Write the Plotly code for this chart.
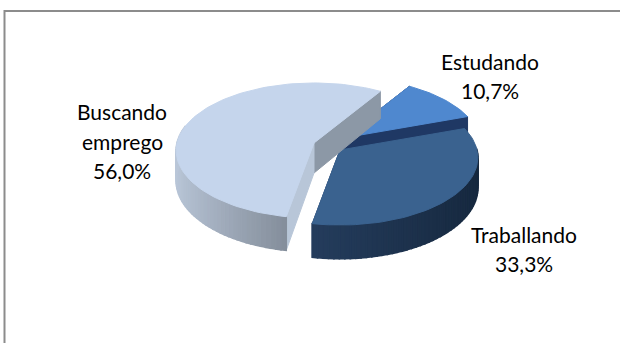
import math
import plotly.graph_objects as go

category_lines = [["Estudando"], ["Traballando"], ["Buscando", "emprego"]]
shares = [10.7, 33.3, 56.0]
share_labels = ["10,7%", "33,3%", "56,0%"]

START = 32.0
A, B, P = 137.0, 66.7, 0.111
centers = [(343, 138), (340, 150), (314, 143)]
depths = [30.0, 30.0, 30.0]
top_colors = ["#4F88CF", "#3A628F", "#C5D5EC"]
wall_left = ["#1F3864", "#243C5C", "#B9C6D8"]
wall_right = ["#1F3864", "#16283E", "#858F9C"]
cut_colors = [("#1F3864", "#1F3864"), ("#1F3864", "#1F3864"), ("#B8C6D8", "#8C98A6")]
label_x = [490, 524, 122]
label_y = [[61, 90], [234, 263], [111, 141, 170]]
FONT_SIZE = 21

def lerp(c1, c2, t):
    a = [int(c1[i:i + 2], 16) for i in (1, 3, 5)]
    b = [int(c2[i:i + 2], 16) for i in (1, 3, 5)]
    return "rgb(%d,%d,%d)" % tuple(round(u + (v - u) * t) for u, v in zip(a, b))

def project(center, r, theta, z):
    d = -math.cos(math.radians(theta)) * r
    w = 1 / (1 - P * d)
    return (center[0] + A * r * math.sin(math.radians(theta)) * w,
            center[1] + B * d * w + z * w)

fig = go.Figure()

def poly(points, color, width=1.0):
    xs = [p[0] for p in points] + [points[0][0]]
    ys = [p[1] for p in points] + [points[0][1]]
    fig.add_trace(go.Scatter(x=xs, y=ys, mode="lines", fill="toself", fillcolor=color,
                             line=dict(color=color, width=width), hoverinfo="skip", showlegend=False))

spans = []
angle = START
for s in shares:
    sweep = s / sum(shares) * 360
    spans.append((angle, angle + sweep))
    angle += sweep

for i in range(3):
    c, h = centers[i], depths[i]
    t0, t1 = spans[i]
    steps = max(2, int((t1 - t0) / 2))
    arc = [t0 + (t1 - t0) * k / steps for k in range(steps + 1)]
    # cut faces: far one first, then the near one
    for theta, col in ((t1, cut_colors[i][1]), (t0, cut_colors[i][0])):
        poly([project(c, 0, 0, 0), project(c, 1, theta, 0), project(c, 1, theta, h), project(c, 0, 0, h)], col)
    # outer wall, visible part; shade runs across the visible part of the slice
    visible = [(a0, a1) for a0, a1 in zip(arc[:-1], arc[1:]) if 88 <= (a0 + a1) / 2 % 360 <= 285]
    sines = [math.sin(math.radians((a0 + a1) / 2)) for a0, a1 in visible]
    lo, hi = (min(sines), max(sines)) if sines else (0, 1)
    for (a0, a1), sn in zip(visible, sines):
        col = lerp(wall_left[i], wall_right[i], (sn - lo) / (hi - lo))
        poly([project(c, 1, a0, 0), project(c, 1, a1, 0), project(c, 1, a1, h), project(c, 1, a0, h)], col, 1.6)
    # top
    poly([project(c, 0, 0, 0)] + [project(c, 1, a, 0) for a in arc], top_colors[i])

annotations = []
for lines, pct, x, ys in zip(category_lines, share_labels, label_x, label_y):
    for text, y in zip(lines + [pct], ys):
        annotations.append(dict(x=x, y=y, text=text, showarrow=False, xref="x", yref="y",
                                xanchor="center", yanchor="middle",
                                font=dict(family="Lato", size=FONT_SIZE, color="#000000")))

fig.update_layout(
    width=620, height=343, margin=dict(l=0, r=0, t=0, b=0),
    paper_bgcolor="white", plot_bgcolor="white", showlegend=False,
    xaxis=dict(range=[0, 620], visible=False, fixedrange=True),
    yaxis=dict(range=[343, 0], visible=False, fixedrange=True),
    annotations=annotations,
    shapes=[dict(type="rect", x0=4.5, y0=11, x1=640, y1=360, xref="x", yref="y",
                 line=dict(color="#8C8C8C", width=2), layer="below")],
)
fig.write_html("out.html", config={"displayModeBar": False},
               post_script="document.body.style.margin='0';document.body.style.overflow='hidden';")
